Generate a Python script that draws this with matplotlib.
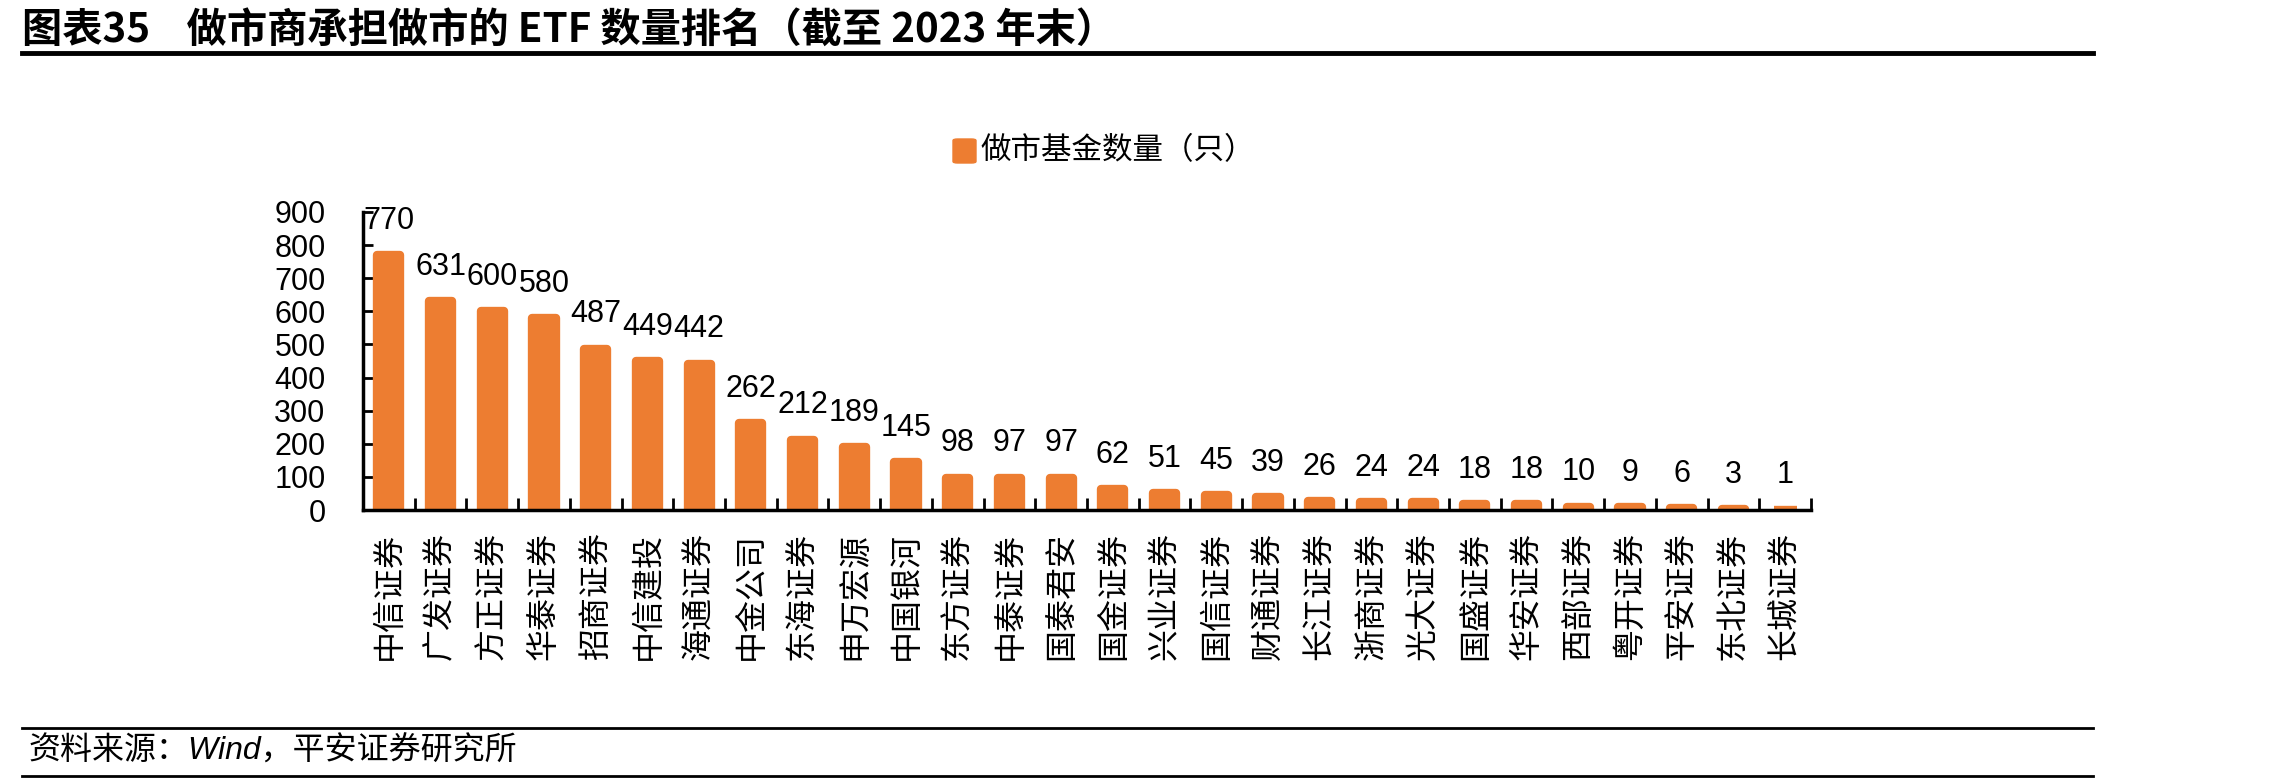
import matplotlib
matplotlib.use("Agg")
import matplotlib.pyplot as plt
import numpy as np
from matplotlib.patches import FancyBboxPatch
from matplotlib.lines import Line2D

# data
brokers = ['中信证券', '广发证券', '方正证券', '华泰证券', '招商证券', '中信建投', '海通证券',
           '中金公司', '东海证券', '申万宏源', '中国银河', '东方证券', '中泰证券', '国泰君安',
           '国金证券', '兴业证券', '国信证券', '财通证券', '长江证券', '浙商证券', '光大证券',
           '国盛证券', '华安证券', '西部证券', '粤开证券', '平安证券', '东北证券', '长城证券']
fund_count = [770, 631, 600, 580, 487, 449, 442, 262, 212, 189, 145, 98, 97, 97,
              62, 51, 45, 39, 26, 24, 24, 18, 18, 10, 9, 6, 3, 1]
yticks = [0, 100, 200, 300, 400, 500, 600, 700, 800, 900]

title = '图表35    做市商承担做市的 ETF 数量排名（截至 2023 年末）'
legend_label = '做市基金数量（只）'
source = '资料来源：Wind，平安证券研究所'

cjk = ['Noto Sans CJK SC', 'DejaVu Sans']
num = ['Liberation Sans', 'Noto Sans CJK SC']
orange = '#ED7D31'

W, H = 2281, 783
fig = plt.figure(figsize=(W / 100, H / 100), dpi=100)

# axes placed from pixel measurements
ax = fig.add_axes([363 / W, 1 - 510 / H, (1811 - 363) / W, (510 - 212) / H])
x = np.arange(len(brokers))
ax.bar(x, fund_count, width=0.45, color=orange, edgecolor=orange, linewidth=6,
       joinstyle='round', zorder=2)

for xi, v in zip(x, fund_count):
    ax.annotate(str(v), (xi, v), xytext=(0, 19), textcoords='offset points',
                ha='center', va='baseline', fontsize=22, family=num)

ax.set_xlim(-0.5, len(brokers) - 0.5)
ax.set_ylim(0, 900)
ax.set_yticks(yticks)
ax.set_yticklabels([str(t) for t in yticks], family=num, fontsize=22)
ax.tick_params(axis='y', direction='in', length=7, width=2, pad=27)

ax.set_xticks(x)
ax.set_xticklabels(brokers, rotation=90, family=cjk, fontsize=23)
ax.tick_params(axis='x', which='major', length=0, pad=16)
ax.set_xticks(np.arange(len(brokers) + 1) - 0.5, minor=True)
ax.tick_params(axis='x', which='minor', direction='in', length=9, width=2)

for s in ['top', 'right']:
    ax.spines[s].set_visible(False)
for s in ['left', 'bottom']:
    ax.spines[s].set_linewidth(2.5)
    ax.spines[s].set_zorder(3)

# legend
fig.patches.append(FancyBboxPatch((953 / W, 1 - 163 / H), 23 / W, 24 / H,
                                  boxstyle='round,pad=0,rounding_size=0.002',
                                  transform=fig.transFigure, color=orange))
fig.text(980 / W, 1 - 151 / H, legend_label, family=cjk, fontsize=22, va='center', ha='left')

# title and rules
fig.text(22 / W, 1 - 30 / H, title, family=cjk, fontsize=29, fontweight='bold',
         va='center', ha='left')
fig.add_artist(Line2D([22 / W, 2093 / W], [1 - 53 / H, 1 - 53 / H], color='black', linewidth=3.5))
fig.add_artist(Line2D([22 / W, 2093 / W], [1 - 728 / H, 1 - 728 / H], color='black', linewidth=2))
fig.add_artist(Line2D([22 / W, 2093 / W], [1 - 776 / H, 1 - 776 / H], color='black', linewidth=2))
fig.text(28 / W, 1 - 752 / H, source, family=num, style='italic', fontsize=23,
         va='center', ha='left')

fig.savefig('out.png', dpi=100)
